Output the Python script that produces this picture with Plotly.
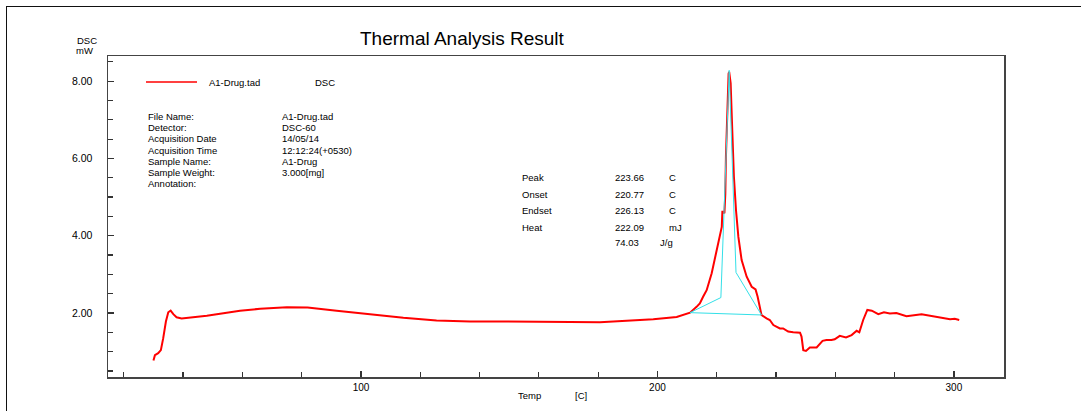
import plotly.graph_objects as go

# ---------------- data ----------------
temp = [30.0, 30.5, 31.6, 32.5, 33.3, 34.2, 35.0, 35.8, 36.7, 37.8, 39.5, 48.0, 59.2, 66.0, 75.0,
        82.0, 91.8, 103.0, 114.3, 125.5, 136.8, 148.0, 159.3, 170.5, 180.6, 187.4, 198.6, 206.5,
        210.4, 211.0, 213.2, 214.3, 215.4, 216.6, 218.3, 220.0, 221.7, 221.9, 222.2, 222.6, 222.9,
        223.1, 223.5, 224.0, 224.2, 224.5, 224.7, 225.0, 225.4, 225.8, 226.5, 227.3, 228.4, 230.1,
        231.8, 233.1, 233.8, 234.6, 235.1, 236.8, 237.9, 239.1, 240.2, 241.3, 242.4, 244.1, 245.8,
        248.1, 248.6, 249.2, 250.1, 251.4, 253.7, 255.7, 257.0, 258.7, 259.8, 261.5, 263.6, 265.5,
        267.2, 268.1, 269.4, 270.8, 272.3, 274.5, 276.4, 278.4, 280.6, 284.0, 289.1, 293.0, 298.7,
        300.3, 301.8]
dsc = [0.77, 0.91, 0.96, 1.04, 1.35, 1.78, 2.02, 2.06, 1.97, 1.89, 1.86, 1.93, 2.06, 2.11, 2.15,
       2.14, 2.06, 1.97, 1.88, 1.81, 1.78, 1.78, 1.78, 1.77, 1.76, 1.79, 1.84, 1.90,
       1.99, 2.01, 2.16, 2.25, 2.42, 2.59, 3.03, 3.63, 4.23, 4.62, 4.62, 4.58, 5.09,
       6.04, 7.25, 8.19, 8.24, 8.11, 7.94, 7.25, 6.38, 5.52, 4.66, 3.97, 3.37, 2.94,
       2.68, 2.61, 2.42, 2.08, 1.95, 1.86, 1.82, 1.69, 1.65, 1.60, 1.60, 1.52, 1.50,
       1.49, 1.39, 1.04, 1.02, 1.11, 1.11, 1.28, 1.30, 1.30, 1.32, 1.41, 1.37, 1.43,
       1.54, 1.50, 1.82, 2.08, 2.06, 1.97, 2.02, 1.99, 2.00, 1.92, 1.97, 1.92, 1.84,
       1.85, 1.82]

# peak analysis construction lines (cyan)
peak_temp = [211.0, 221.4, 224.2, 226.5, 235.1, 211.0]
peak_dsc = [2.01, 2.40, 8.28, 3.05, 1.95, 2.01]

x_ticks = [100, 200, 300]
y_ticks = [2, 4, 6, 8]

info_labels = ["File Name:", "Detector:", "Acquisition Date", "Acquisition Time",
               "Sample Name:", "Sample Weight:", "Annotation:"]
info_values = ["A1-Drug.tad", "DSC-60", "14/05/14", "12:12:24(+0530)",
               "A1-Drug", "3.000[mg]", ""]

peak_labels = ["Peak", "Onset", "Endset", "Heat", ""]
peak_values = ["223.66", "220.77", "226.13", "222.09", "74.03"]
peak_units = ["C", "C", "C", "mJ", "J/g"]

# ---------------- layout helpers ----------------
W, H = 1081, 411
L, R, T, B = 108, 1004, 56, 377
PW, PH = R - L, B - T


def px(x):
    return (x - L) / PW


def py(y):
    return (B - y) / PH


FONT = "Liberation Sans, Arial, sans-serif"

fig = go.Figure()
fig.add_trace(go.Scatter(x=temp, y=dsc, mode="lines",
                         line=dict(color="#ff0000", width=2), showlegend=False,
                         hoverinfo="skip"))
fig.add_trace(go.Scatter(x=peak_temp, y=peak_dsc, mode="lines",
                         line=dict(color="#33e0e8", width=1), showlegend=False,
                         hoverinfo="skip"))

annotations = []


def txt(x, y, s, size=9.5, anchor="left"):
    annotations.append(dict(x=px(x), y=py(y), xref="paper", yref="paper", text=s,
                            showarrow=False, xanchor=anchor, yanchor="middle",
                            font=dict(family=FONT, size=size, color="#000")))


txt(462, 38, "Thermal Analysis Result", size=19, anchor="center")
txt(87, 40, "DSC", size=9.5, anchor="center")
txt(84, 50, "mW", size=9.5, anchor="center")
txt(207, 82, "A1-Drug.tad")
txt(313, 82, "DSC")

for i, (lab, val) in enumerate(zip(info_labels, info_values)):
    yy = 116.7 + i * 11.1
    txt(146, yy, lab)
    if val:
        txt(280, yy, val)

peak_y = [177.3, 194.3, 210.7, 227.3, 242.0]
for lab, val, unit, yy in zip(peak_labels, peak_values, peak_units, peak_y):
    if lab:
        txt(520, yy, lab)
    txt(613, yy, val)
    txt(667 if unit != "J/g" else 658, yy, unit)

txt(516, 396, "Temp")
txt(573, 396, "[C]")

shapes = [
    # outer frame: top and left edges (others fall outside the picture)
    dict(type="line", xref="paper", yref="paper", x0=px(6), x1=px(1081), y0=py(6.5), y1=py(6.5),
         line=dict(color="#111", width=1)),
    dict(type="line", xref="paper", yref="paper", x0=px(6.5), x1=px(6.5), y0=py(6), y1=py(411),
         line=dict(color="#111", width=1)),
    # legend sample line
    dict(type="line", xref="paper", yref="paper", x0=px(146), x1=px(197), y0=py(82), y1=py(82),
         line=dict(color="#ff0000", width=1.5)),
]

fig.update_layout(
    width=W, height=H, autosize=False,
    margin=dict(l=L, r=W - R, t=T, b=H - B, pad=0),
    paper_bgcolor="white", plot_bgcolor="white",
    annotations=annotations, shapes=shapes,
    font=dict(family=FONT, size=10, color="#000"),
    showlegend=False,
)

fig.update_xaxes(range=[14.67, 316.9], tickvals=x_ticks, ticks="inside", ticklen=6,
                 tickcolor="#333", tickwidth=1.2,
                 minor=dict(dtick=20, tick0=0, ticks="inside", ticklen=5, tickcolor="#333"),
                 showgrid=False, zeroline=False, showline=True, mirror=True,
                 linecolor="#444", linewidth=1.5, tickfont=dict(size=10),
                 ticklabelstandoff=0)
fig.update_yaxes(range=[0.345, 8.65], tickvals=y_ticks, tickformat=".2f", ticks="inside",
                 ticklen=6, tickcolor="#333", tickwidth=1.2,
                 minor=dict(dtick=0.5, tick0=0, ticks="inside", ticklen=5, tickcolor="#333"),
                 showgrid=False, zeroline=False, showline=True, mirror=True,
                 linecolor="#444", linewidth=1.5, tickfont=dict(size=10.5),
                 ticklabelstandoff=12)

fig.write_html("out.html",
               config={"displayModeBar": False, "staticPlot": True},
               post_script="document.body.style.margin='0px';"
                           "document.body.style.overflow='hidden';")
